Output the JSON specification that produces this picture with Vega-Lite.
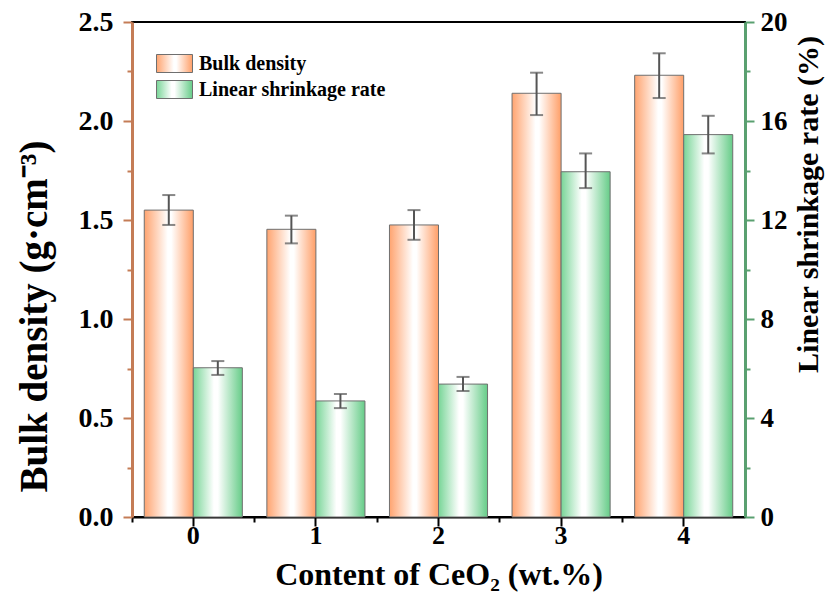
{
  "$schema": "https://vega.github.io/schema/vega-lite/v6.json",
  "width": 613,
  "height": 495,
  "autosize": "none",
  "padding": {"left": 132, "top": 22, "right": 87, "bottom": 82},
  "background": "white",
  "config": {
    "view": {"stroke": "#000000", "strokeWidth": 2},
    "font": "Liberation Serif",
    "axis": {"labelFont": "Liberation Serif", "titleFont": "Liberation Serif", "labelFontWeight": "bold", "titleFontWeight": "bold", "labelColor": "#000", "titleColor": "#000", "grid": false},
    "legend": {"labelFont": "Liberation Serif", "labelFontWeight": "bold", "labelFontSize": 20, "labelColor": "#000", "labelLimit": 400}
  },
  "data": {
    "values": [
      {"c": "0", "s": "Bulk density", "v": 1.55, "lo": 1.475, "hi": 1.626},
      {"c": "1", "s": "Bulk density", "v": 1.453, "lo": 1.382, "hi": 1.522},
      {"c": "2", "s": "Bulk density", "v": 1.475, "lo": 1.40, "hi": 1.55},
      {"c": "3", "s": "Bulk density", "v": 2.14, "lo": 2.03, "hi": 2.244},
      {"c": "4", "s": "Bulk density", "v": 2.231, "lo": 2.116, "hi": 2.342},
      {"c": "0", "s": "Linear shrinkage rate", "v": 6.03, "lo": 5.74, "hi": 6.30},
      {"c": "1", "s": "Linear shrinkage rate", "v": 4.69, "lo": 4.40, "hi": 4.97},
      {"c": "2", "s": "Linear shrinkage rate", "v": 5.37, "lo": 5.09, "hi": 5.66},
      {"c": "3", "s": "Linear shrinkage rate", "v": 13.95, "lo": 13.29, "hi": 14.69},
      {"c": "4", "s": "Linear shrinkage rate", "v": 15.45, "lo": 14.69, "hi": 16.21}
    ]
  },
  "encoding": {
    "x": {"field": "c", "type": "nominal", "scale": {"paddingInner": 0.2, "paddingOuter": 0.1}},
    "xOffset": {"field": "s", "type": "nominal", "scale": {"domain": ["Bulk density", "Linear shrinkage rate"], "paddingInner": 0, "paddingOuter": 0}}
  },
  "layer": [
    {
      "transform": [{"filter": "datum.s === 'Bulk density'"}],
      "mark": {"type": "bar", "strokeWidth": 1,
        "fill": {"gradient": "linear", "x1": 0, "y1": 0, "x2": 1, "y2": 0,
          "stops": [{"offset": 0, "color": "#ffa470"}, {"offset": 0.48, "color": "#ffffff"}, {"offset": 0.55, "color": "#ffffff"}, {"offset": 1, "color": "#ff9f68"}]}},
      "encoding": {
        "x": {"field": "c", "type": "nominal", "axis": {"orient": "bottom", "title": "Content of CeO₂ (wt.%)", "labelAngle": 0, "labelFontSize": 26, "titleFontSize": 32, "domainColor": "#000", "domainWidth": 2, "tickColor": "#000", "tickWidth": 2, "tickSize": 9, "labelPadding": -4, "titlePadding": 11}},
        "y": {"field": "v", "type": "quantitative", "scale": {"domain": [0, 2.5]}, "axis": {"orient": "left", "title": "Bulk density (g·cm⁻³)", "titleY": 294, "values": [0, 0.5, 1, 1.5, 2, 2.5], "format": ".1f", "labelFontSize": 28, "titleFontSize": 39, "domainColor": "#c47c56", "domainWidth": 3, "tickColor": "#c47c56", "tickWidth": 2, "tickSize": 9, "labelPadding": 10, "titlePadding": 24}},
        "stroke": {"field": "s", "type": "nominal", "scale": {"domain": ["Bulk density"], "range": ["#6f6f6f"]},
          "legend": {"orient": "none", "legendX": 24, "legendY": 23, "title": null, "symbolType": "M-1,-0.5H1V0.5H-1Z", "symbolSize": 1296, "symbolStrokeWidth": 1, "labelOffset": 6,
            "encode": {"symbols": {"update": {"fill": {"value": {"gradient": "linear", "x1": 0, "y1": 0, "x2": 1, "y2": 0, "stops": [{"offset": 0, "color": "#ffa470"}, {"offset": 0.5, "color": "#ffffff"}, {"offset": 1, "color": "#ff9f68"}]}}, "stroke": {"value": "#6f6f6f"}, "opacity": {"value": 1}}}}}
        }
      }
    },
    {
      "transform": [{"filter": "datum.s === 'Linear shrinkage rate'"}],
      "mark": {"type": "bar", "strokeWidth": 1,
        "fill": {"gradient": "linear", "x1": 0, "y1": 0, "x2": 1, "y2": 0,
          "stops": [{"offset": 0, "color": "#78d597"}, {"offset": 0.42, "color": "#ffffff"}, {"offset": 0.5, "color": "#ffffff"}, {"offset": 1, "color": "#66cc88"}]}},
      "encoding": {
        "x": {"field": "c", "type": "nominal", "axis": null},
        "y": {"field": "v", "type": "quantitative", "scale": {"domain": [0, 20]}, "axis": {"orient": "right", "title": "Linear shrinkage rate (%)", "titleAngle": 270, "titleBaseline": "top", "titleY": 182, "values": [0, 4, 8, 12, 16, 20], "labelFontSize": 27, "titleFontSize": 30, "domainColor": "#5aa070", "domainWidth": 3, "tickColor": "#5aa070", "tickWidth": 2, "tickSize": 9, "labelPadding": 6, "titlePadding": 6}},
        "stroke": {"field": "s", "type": "nominal", "scale": {"domain": ["Linear shrinkage rate"], "range": ["#6f6f6f"]},
          "legend": {"orient": "none", "legendX": 24, "legendY": 49, "title": null, "symbolType": "M-1,-0.5H1V0.5H-1Z", "symbolSize": 1296, "symbolStrokeWidth": 1, "labelOffset": 6,
            "encode": {"symbols": {"update": {"fill": {"value": {"gradient": "linear", "x1": 0, "y1": 0, "x2": 1, "y2": 0, "stops": [{"offset": 0, "color": "#78d597"}, {"offset": 0.45, "color": "#ffffff"}, {"offset": 1, "color": "#66cc88"}]}}, "stroke": {"value": "#6f6f6f"}, "opacity": {"value": 1}}}}}
        }
      }
    },
    {
      "transform": [{"filter": "datum.s === 'Bulk density'"}],
      "mark": {"type": "rule", "color": "#555555", "strokeWidth": 2},
      "encoding": {
        "x": {"field": "c", "type": "nominal", "axis": {"orient": "bottom", "title": null, "labels": false, "domain": false, "tickColor": "#000", "tickWidth": 2, "tickSize": 5, "bandPosition": -0.125}},
        "y": {"field": "lo", "type": "quantitative", "scale": {"domain": [0, 2.5]}, "axis": {"orient": "left", "title": null, "labels": false, "domain": false, "values": [0.25, 0.75, 1.25, 1.75, 2.25], "tickColor": "#c47c56", "tickWidth": 2, "tickSize": 5}},
        "y2": {"field": "hi"}
      }
    },
    {
      "transform": [{"filter": "datum.s === 'Linear shrinkage rate'"}],
      "mark": {"type": "rule", "color": "#555555", "strokeWidth": 2},
      "encoding": {
        "x": {"field": "c", "type": "nominal", "axis": null},
        "y": {"field": "lo", "type": "quantitative", "scale": {"domain": [0, 20]}, "axis": {"orient": "right", "title": null, "labels": false, "domain": false, "values": [2, 6, 10, 14, 18], "tickColor": "#5aa070", "tickWidth": 2, "tickSize": 5}},
        "y2": {"field": "hi"}
      }
    },
    {
      "transform": [{"filter": "datum.s === 'Bulk density'"}, {"fold": ["lo", "hi"], "as": ["k", "e"]}],
      "mark": {"type": "tick", "orient": "horizontal", "color": "#555555", "size": 13, "thickness": 2},
      "encoding": {
        "x": {"field": "c", "type": "nominal", "axis": null},
        "y": {"field": "e", "type": "quantitative", "scale": {"domain": [0, 2.5]}, "axis": null}
      }
    },
    {
      "transform": [{"filter": "datum.s === 'Linear shrinkage rate'"}, {"fold": ["lo", "hi"], "as": ["k", "e"]}],
      "mark": {"type": "tick", "orient": "horizontal", "color": "#555555", "size": 13, "thickness": 2},
      "encoding": {
        "x": {"field": "c", "type": "nominal", "axis": null},
        "y": {"field": "e", "type": "quantitative", "scale": {"domain": [0, 20]}, "axis": null}
      }
    }
  ],
  "resolve": {"scale": {"y": "independent", "stroke": "independent"}, "axis": {"y": "independent", "x": "independent"}, "legend": {"stroke": "independent"}}
}
